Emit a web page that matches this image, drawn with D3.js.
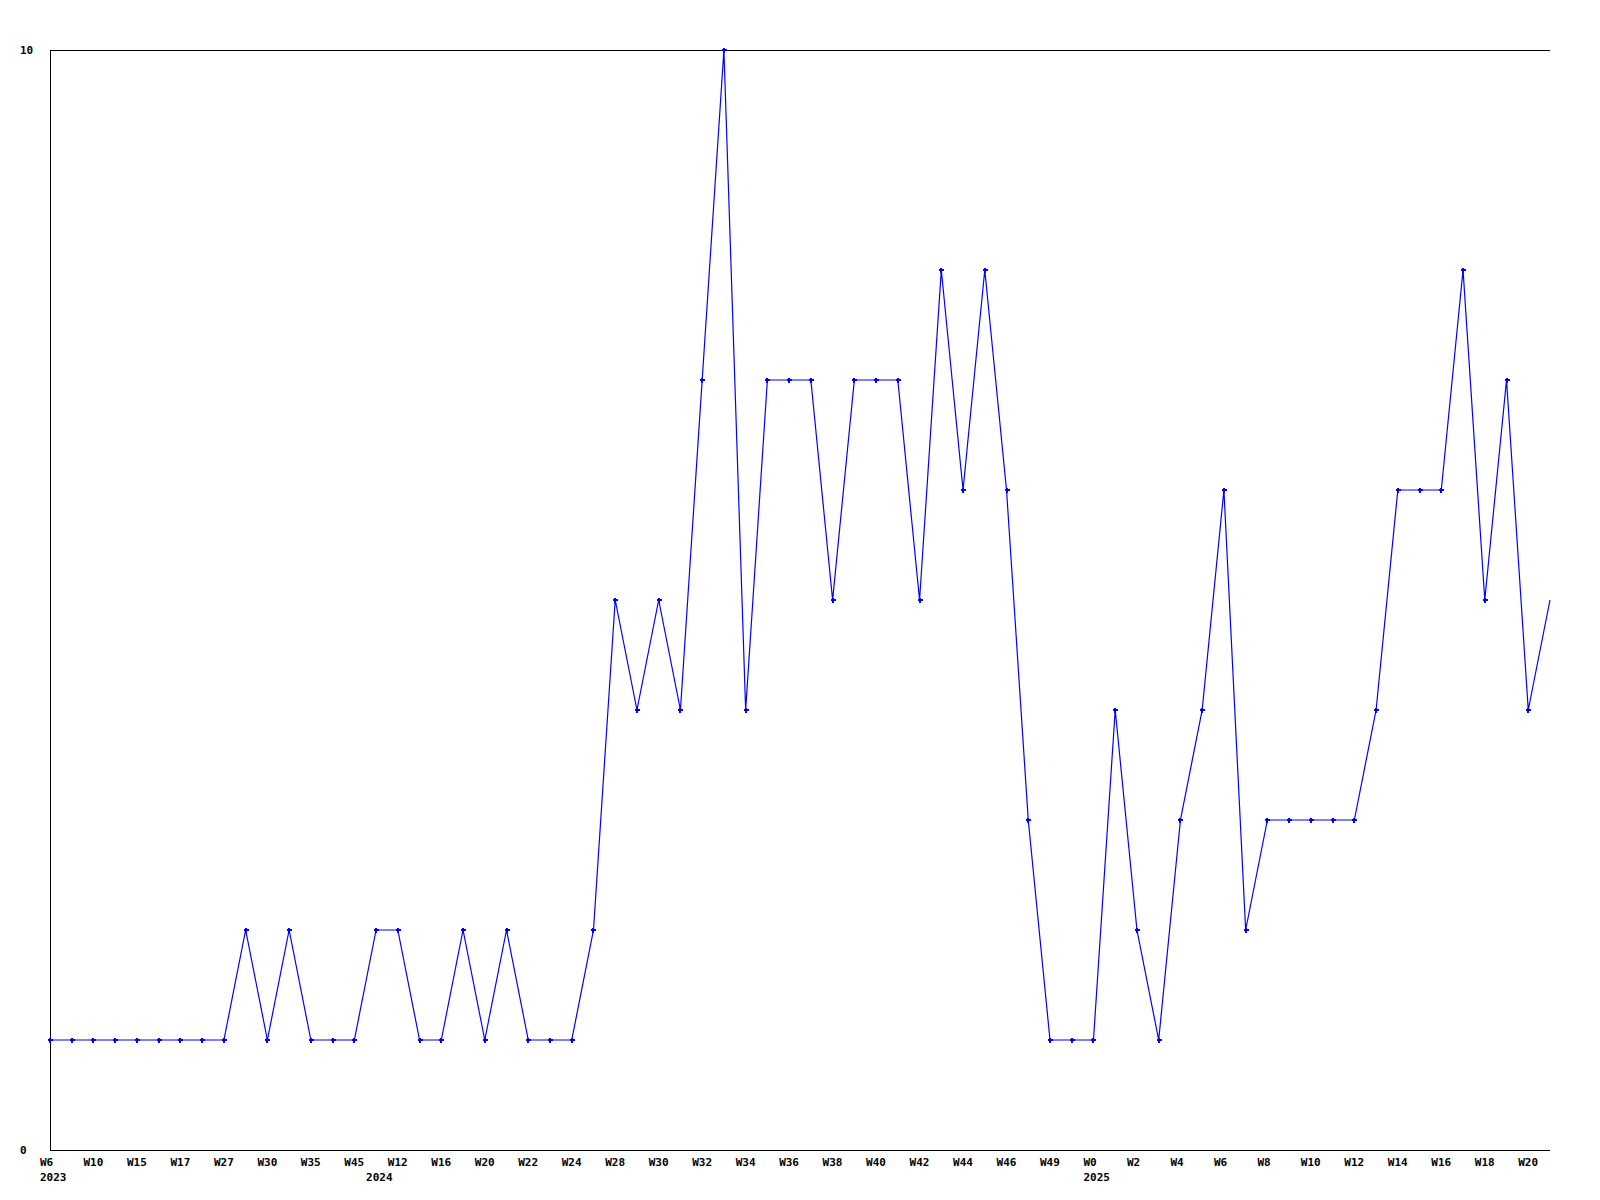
<!DOCTYPE html>
<html>
<head>
<meta charset="utf-8">
<script src="https://cdn.jsdelivr.net/npm/d3@7"></script>
<style>
  html, body { margin: 0; padding: 0; background: #fff; }
  text { font-family: "DejaVu Sans Mono", monospace; font-weight: bold; font-size: 11px; fill: #000; }
</style>
</head>
<body>
<svg id="chart" width="1600" height="1200"></svg>
<script>
// Week categories (every other label is shown on the axis)
const weeks = [
  "W6","W8","W10","W12","W15","W16","W17","W20","W27","W28",
  "W30","W33","W35","W40","W45","W11","W12","W14","W16","W18",
  "W20","W21","W22","W23","W24","W27","W28","W29","W30","W31",
  "W32","W33","W34","W35","W36","W37","W38","W39","W40","W41",
  "W42","W43","W44","W45","W46","W48","W49","W50","W0","W1",
  "W2","W3","W4","W5","W6","W7","W8","W9","W10","W11",
  "W12","W13","W14","W15","W16","W17","W18","W19","W20","W21"
];
const values = [
  1,1,1,1,1,1,1,1,1,2,
  1,2,1,1,1,2,2,1,1,2,
  1,2,1,1,1,2,5,4,5,4,
  7,10,4,7,7,7,5,7,7,7,
  5,8,6,8,6,3,1,1,1,4,
  2,1,3,4,6,2,3,3,3,3,
  3,4,6,6,6,8,5,7,4,5
];
const yearLabels = [
  { index: 0, label: "2023" },
  { index: 15, label: "2024" },
  { index: 48, label: "2025" }
];
const yTicks = [0, 10];

const svg = d3.select("#chart");
const mLeft = 50, mRight = 1550, mTop = 50, mBottom = 1150;

const idx = d3.range(values.length);
const x = d3.scaleLinear().domain([0, values.length - 1]).range([mLeft, mRight]);
const y = d3.scaleLinear().domain([0, 10]).range([mBottom, mTop]);

// frame lines
svg.append("line").attr("x1", mLeft + 0.5).attr("x2", mLeft + 0.5).attr("y1", mTop).attr("y2", mBottom + 0.5)
  .attr("stroke", "#000").attr("stroke-width", 1).attr("shape-rendering", "crispEdges");
svg.append("line").attr("x1", mLeft).attr("x2", mRight).attr("y1", mBottom + 0.5).attr("y2", mBottom + 0.5)
  .attr("stroke", "#000").attr("stroke-width", 1).attr("shape-rendering", "crispEdges");
svg.append("line").attr("x1", mLeft).attr("x2", mRight).attr("y1", mTop + 0.5).attr("y2", mTop + 0.5)
  .attr("stroke", "#000").attr("stroke-width", 1).attr("shape-rendering", "crispEdges");

// y labels
svg.selectAll("text.ylab").data(yTicks).enter().append("text")
  .attr("class", "ylab")
  .attr("x", 20)
  .attr("y", d => y(d) + 4)
  .text(d => d);

// x labels (every other category)
svg.selectAll("text.xlab").data(idx.filter(i => i % 2 === 0)).enter().append("text")
  .attr("class", "xlab")
  .attr("x", i => x(i) - 10)
  .attr("y", mBottom + 16)
  .text(i => weeks[i]);

// year labels
svg.selectAll("text.year").data(yearLabels).enter().append("text")
  .attr("class", "year")
  .attr("x", d => x(d.index) - 10)
  .attr("y", mBottom + 31)
  .text(d => d.label);

// line
const line = d3.line().x((d, i) => x(i)).y(d => y(d));
svg.append("path").datum(values)
  .attr("d", line)
  .attr("fill", "none")
  .attr("stroke", "#0000ff")
  .attr("stroke-width", 1.2);

// markers (all but the last point)
const mk = svg.append("g");
idx.slice(0, values.length - 1).forEach(i => {
  const cx = Math.round(x(i)), cy = Math.round(y(values[i]));
  mk.append("rect").attr("x", cx - 2).attr("y", cy - 1).attr("width", 5).attr("height", 2).attr("fill", "#0000ff");
  mk.append("rect").attr("x", cx - 1).attr("y", cy - 2).attr("width", 2).attr("height", 5).attr("fill", "#0000ff");
});
</script>
</body>
</html>
